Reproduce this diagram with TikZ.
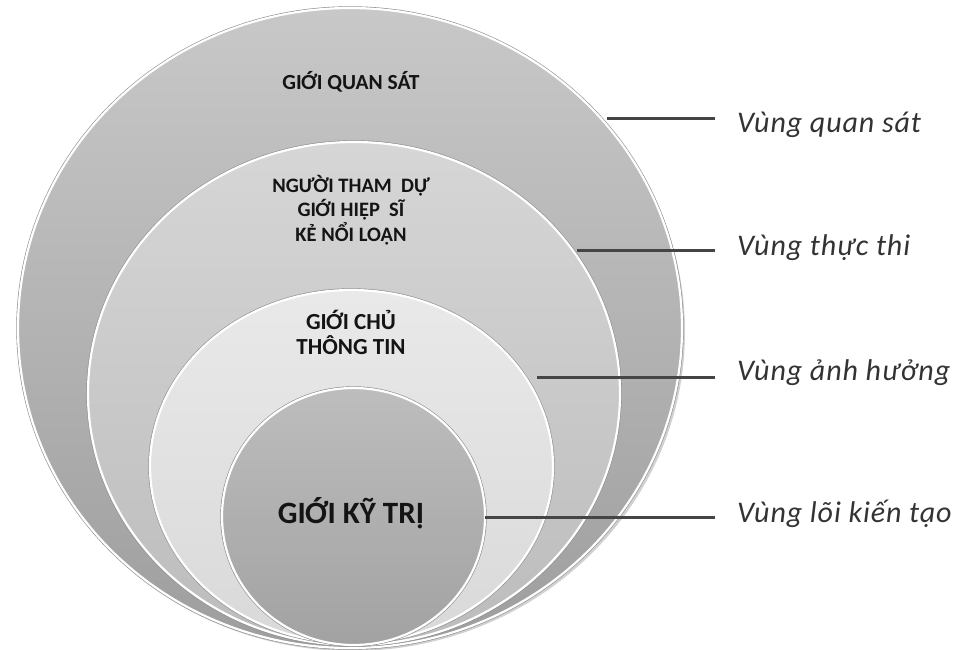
\documentclass[tikz,border=0pt]{standalone}
\usepackage{fontspec}
\setmainfont{Carlito}
\usetikzlibrary{shapes.geometric}
\definecolor{outerT}{HTML}{C8C8C8}
\definecolor{outerB}{HTML}{9E9E9E}
\definecolor{secT}{HTML}{D6D6D6}
\definecolor{secB}{HTML}{BCBCBC}
\definecolor{thirdT}{HTML}{E9E9E9}
\definecolor{thirdB}{HTML}{D9D9D9}
\definecolor{innerT}{HTML}{BDBDBD}
\definecolor{innerB}{HTML}{A2A2A2}
\definecolor{rimgray}{HTML}{8E8E8E}
\definecolor{leadgray}{HTML}{454545}
\begin{document}
\begin{tikzpicture}[x=1pt,y=-1pt,
  ring/.style={ellipse, inner sep=0pt, draw=white, line width=2.2pt,
    preaction={draw=rimgray, line width=3.4pt}},
  grp/.style={font=\bfseries\fontsize{21.5}{24.5}\selectfont, align=center,
    text=black!92, inner sep=0pt},
  zonelabel/.style={font=\itshape\fontsize{30}{34}\selectfont\addfontfeature{LetterSpace=3}, text=black!80,
    anchor=base west, inner sep=0pt},
  leader/.style={draw=leadgray, line width=3pt, shorten >=22pt}]
\useasboundingbox (0,0) rectangle (964,650);
% soft shadow under the outer circle
\fill[black!18] (352,332) ellipse [x radius=333pt, y radius=319pt];
% circles
\node[ring, minimum width=664pt, minimum height=640pt,
  top color=outerT, bottom color=outerB] (outer) at (350,328) {};
\node[ring, minimum width=532pt, minimum height=503pt,
  top color=secT, bottom color=secB] (second) at (354,393.5) {};
\node[ring, minimum width=403pt, minimum height=353pt,
  top color=thirdT, bottom color=thirdB] (third) at (351.5,466.5) {};
\node[ring, minimum width=263pt, minimum height=257pt,
  top color=innerT, bottom color=innerB] (inner) at (353.5,516.5) {};
% texts inside circles
\node[grp, anchor=base] (tq) at (351,90) {GIỚI QUAN SÁT};
\node[grp, font=\bfseries\fontsize{20.5}{24.5}\selectfont] (tt) at (351,210) {NGƯỜI THAM\ \ DỰ\\GIỚI HIỆP\ \ SĨ\\KẺ NỔI LOẠN};
\node[grp, font=\bfseries\fontsize{23}{25}\selectfont] (tc) at (351,332) {GIỚI CHỦ\\THÔNG TIN};
\node[grp, anchor=base, font=\bfseries\fontsize{31}{34}\selectfont] (tk) at (351,523) {GIỚI KỸ TRỊ};
% zone labels
\node[zonelabel] (z1) at (737,133) {Vùng quan sát};
\node[zonelabel] (z2) at (737,255) {Vùng thực thi};
\node[zonelabel] (z3) at (737,380) {Vùng ảnh hưởng};
\node[zonelabel] (z4) at (737,522) {Vùng lõi kiến tạo};
% leader start points
\coordinate (s1) at (607,119);
\coordinate (s2) at (577,250);
\coordinate (s3) at (537,377);
\coordinate (s4) at (485,517);
\draw[leader] (s1) -- (s1 -| z1.west);
\draw[leader] (s2) -- (s2 -| z2.west);
\draw[leader] (s3) -- (s3 -| z3.west);
\draw[leader] (s4) -- (s4 -| z4.west);
\end{tikzpicture}
\end{document}
